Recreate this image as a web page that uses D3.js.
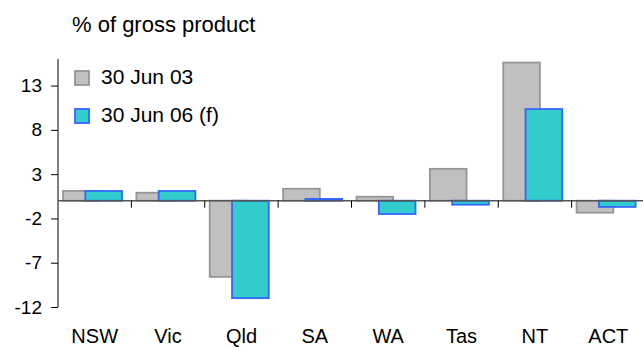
<!DOCTYPE html>
<html>
<head>
<meta charset="utf-8">
<script src="https://cdn.jsdelivr.net/npm/d3@7"></script>
<style>
  body { margin: 0; background: #fff; }
  svg { display: block; font-family: "Liberation Sans", Arial, sans-serif; }
</style>
</head>
<body>
<svg id="chart" width="643" height="347"></svg>
<script>
// data
const states = ['NSW', 'Vic', 'Qld', 'SA', 'WA', 'Tas', 'NT', 'ACT'];
const jun03 = [1.1, 0.9, -8.6, 1.35, 0.45, 3.6, 15.6, -1.35];
const jun06 = [1.1, 1.1, -11.0, 0.2, -1.5, -0.45, 10.35, -0.7];
const yTicks = [13, 8, 3, -2, -7, -12];
const seriesNames = ['30 Jun 03', '30 Jun 06 (f)'];

const width = 643, height = 347;
const margin = {top: 59, right: -2, bottom: 40, left: 58};
const chartWidth = width - margin.left - margin.right,
    chartHeight = height - margin.top - margin.bottom;

const svg = d3.select('#chart');

// ---------- Scales

const xScale = d3.scaleBand()
  .domain(states)
  .range([0, chartWidth])
  .padding(0);

const yScale = d3.scaleLinear()
  .domain([-12, 16])
  .range([248, 0]);

const step = xScale.step();

const g = svg.append('g')
    .attr('transform', `translate(${margin.left}, ${margin.top})`);

// ---------- Bars (grey first, teal overlaps it)

const series = [
  {values: jun03, offset: 0.068, fill: '#c0c0c0', stroke: '#969696'},
  {values: jun06, offset: 0.372, fill: '#33cccc', stroke: '#3366ff'}
];

series.forEach(s => {
  g.selectAll(null)
    .data(states)
    .enter().append('rect')
      .attr('x', (d, i) => xScale(d) + step * s.offset)
      .attr('width', step * 0.5)
      .attr('y', (d, i) => yScale(Math.max(0, s.values[i])))
      .attr('height', (d, i) => Math.abs(yScale(s.values[i]) - yScale(0)))
      .attr('fill', s.fill)
      .attr('stroke', s.stroke)
      .attr('stroke-width', 1.8);
});

// ---------- Y axis

const yAxis = g.append('g')
    .call(d3.axisLeft(yScale)
      .tickValues(yTicks)
      .tickFormat(d => String(d))
      .tickSize(7)
      .tickPadding(9));
yAxis.select('.domain').attr('stroke', '#000').attr('d', `M0,0V${yScale(-12)}`);
yAxis.selectAll('.tick line').attr('stroke', '#000');
yAxis.selectAll('.tick text')
    .attr('font-size', 19)
    .attr('fill', '#000');

// ---------- Zero line with category ticks

const xAxis = g.append('g')
    .attr('transform', `translate(0, ${yScale(0)})`);

xAxis.append('line')
    .attr('x1', 0).attr('x2', chartWidth)
    .attr('stroke', '#555').attr('stroke-width', 1.6);

xAxis.selectAll('.sep')
  .data(states.slice(1))
  .enter().append('line')
    .attr('x1', d => xScale(d)).attr('x2', d => xScale(d))
    .attr('y1', 0).attr('y2', 7)
    .attr('stroke', '#000');

g.selectAll('.cat')
  .data(states)
  .enter().append('text')
    .attr('x', d => xScale(d) + step / 2)
    .attr('y', 284)
    .attr('text-anchor', 'middle')
    .attr('font-size', 20)
    .text(d => d);

// ---------- Title and legend

svg.append('text')
    .attr('x', 72).attr('y', 32)
    .attr('font-size', 22)
    .text('% of gross product');

const legend = svg.selectAll('.legend')
  .data(seriesNames)
  .enter().append('g')
    .attr('transform', (d, i) => `translate(75, ${71 + i * 38})`);

legend.append('rect')
    .attr('width', 14).attr('height', 14)
    .attr('fill', (d, i) => series[i].fill)
    .attr('stroke', (d, i) => series[i].stroke)
    .attr('stroke-width', 1.8);

legend.append('text')
    .attr('x', 26).attr('y', 13)
    .attr('font-size', 21)
    .text(d => d);
</script>
</body>
</html>
